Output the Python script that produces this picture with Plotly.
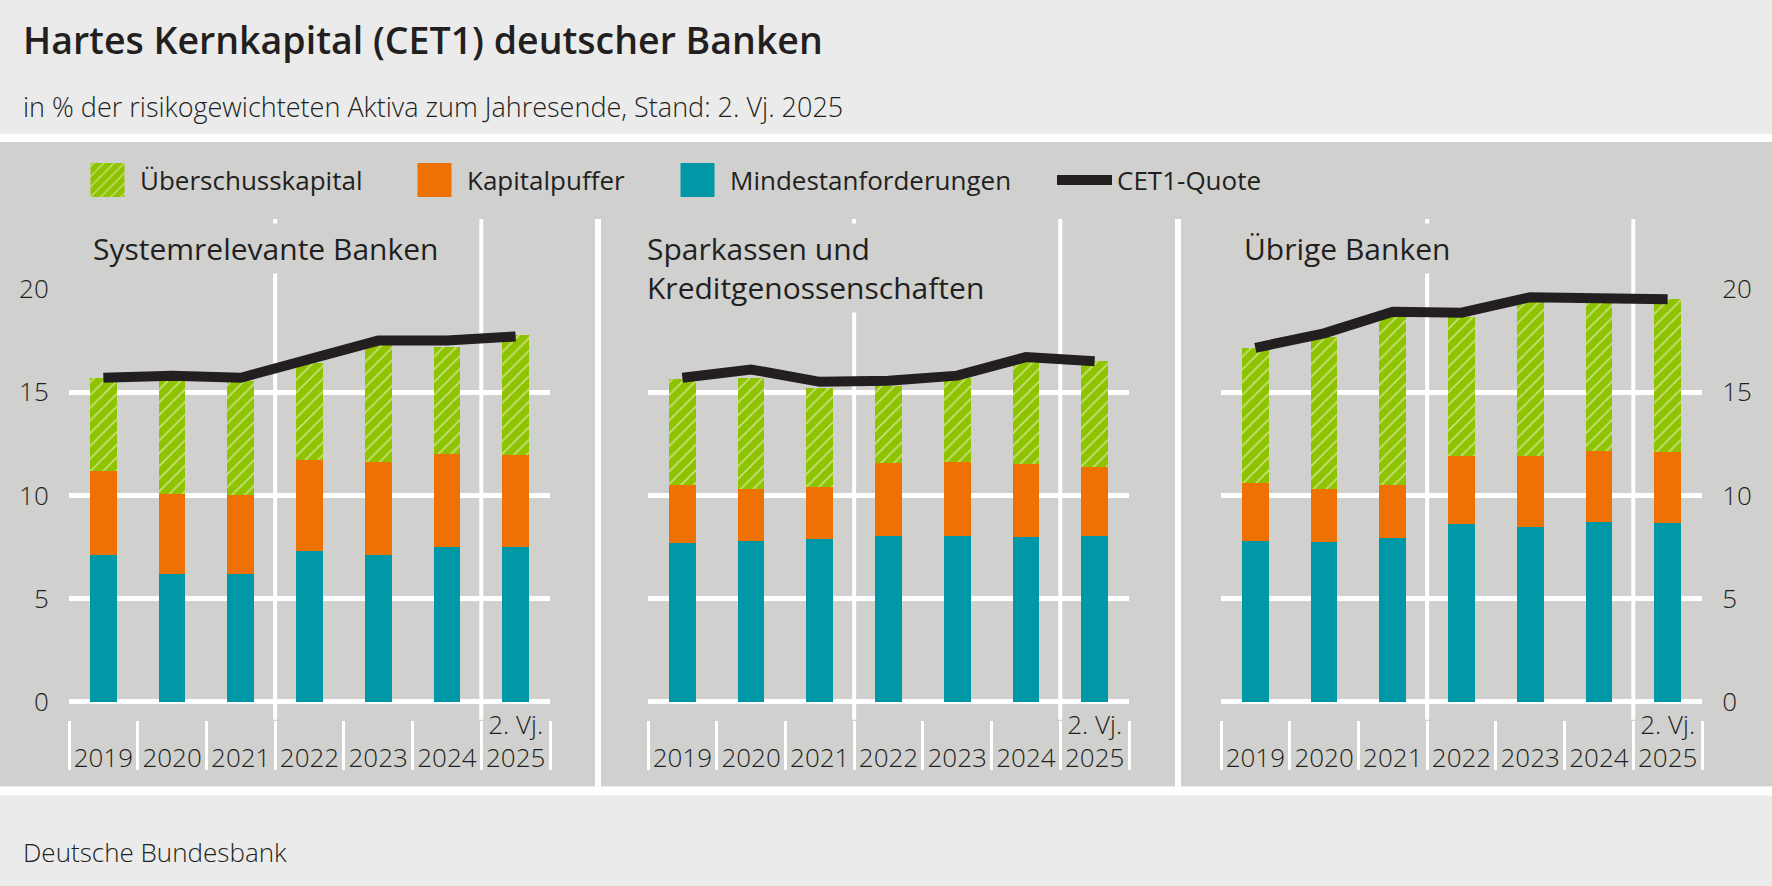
import plotly.graph_objects as go

# ---------------- data ----------------
years = ["2019", "2020", "2021", "2022", "2023", "2024", "2025"]
tick_labels = ["<br>2019", "<br>2020", "<br>2021", "<br>2022", "<br>2023", "<br>2024", "2. Vj.<br>2025"]

panel_titles = ["Systemrelevante Banken", "Sparkassen und<br>Kreditgenossenschaften", "Übrige Banken"]
series_names = ["Überschusskapital", "Kapitalpuffer", "Mindestanforderungen", "CET1-Quote"]

sys_mindest = [7.1, 6.2, 6.2, 7.3, 7.1, 7.5, 7.5]
sys_puffer = [4.1, 3.85, 3.8, 4.4, 4.5, 4.5, 4.45]
sys_ueber = [4.5, 5.55, 5.55, 4.7, 5.7, 5.2, 5.8]
sys_cet1 = [15.7, 15.8, 15.7, 16.6, 17.5, 17.5, 17.7]

spk_mindest = [7.7, 7.8, 7.9, 8.05, 8.05, 8.0, 8.05]
spk_puffer = [2.8, 2.5, 2.5, 3.5, 3.55, 3.5, 3.35]
spk_ueber = [5.15, 5.4, 4.8, 3.75, 4.1, 4.95, 5.1]
spk_cet1 = [15.7, 16.1, 15.5, 15.55, 15.8, 16.7, 16.5]

ueb_mindest = [7.8, 7.75, 7.95, 8.6, 8.45, 8.7, 8.65]
ueb_puffer = [2.8, 2.55, 2.55, 3.3, 3.45, 3.45, 3.45]
ueb_ueber = [6.55, 7.35, 8.2, 6.75, 7.55, 7.2, 7.4]
ueb_cet1 = [17.15, 17.85, 18.9, 18.85, 19.6, 19.55, 19.5]

y_ticks = [0, 5, 10, 15, 20]

# ---------------- style ----------------
W, H = 1772, 886
FONT = "Open Sans"
TXT = "#231f20"
OUTER = "#ebebeb"
PANEL = "#d0d0cf"
GREEN = "#8fc300"
ORANGE = "#ee7203"
TEAL = "#0097a7"
LINE = "#231f20"

# vertical calibration of the captured page (measured from earlier renders)
SY, OY = 0.96, 19.9


def fx(p):
    return p / W


def fy(p):
    return 1 - ((p - OY) / SY) / H


def vlen(p):
    return p / SY


panel_px = [(69, 550), (648, 1129), (1221, 1702)]
panels = [
    (sys_mindest, sys_puffer, sys_ueber, sys_cet1),
    (spk_mindest, spk_puffer, spk_ueber, spk_cet1),
    (ueb_mindest, ueb_puffer, ueb_ueber, ueb_cet1),
]

fig = go.Figure()
legend_ids = ["legend", "legend2", "legend3", "legend4"]

for i, (mind, puf, ueb, cet) in enumerate(panels):
    xa = "x" if i == 0 else f"x{i+1}"
    ya = "y" if i == 0 else f"y{i+1}"
    show = i == 0
    fig.add_trace(go.Bar(x=years, y=mind, name=series_names[2], marker=dict(color=TEAL, line=dict(width=0)),
                         width=0.39, xaxis=xa, yaxis=ya, showlegend=show, legend=legend_ids[2]))
    fig.add_trace(go.Bar(x=years, y=puf, name=series_names[1], marker=dict(color=ORANGE, line=dict(width=0)),
                         width=0.39, xaxis=xa, yaxis=ya, showlegend=show, legend=legend_ids[1]))
    fig.add_trace(go.Bar(x=years, y=ueb, name=series_names[0],
                         marker=dict(color=GREEN, line=dict(width=0),
                                     pattern=dict(shape="/", fgcolor="white", bgcolor=GREEN, size=9, solidity=0.18)),
                         width=0.39, xaxis=xa, yaxis=ya, showlegend=show, legend=legend_ids[0]))
    fig.add_trace(go.Scatter(x=years, y=cet, name=series_names[3], mode="lines",
                             line=dict(color=LINE, width=10), xaxis=xa, yaxis=ya,
                             showlegend=show, legend=legend_ids[3]))

layout = dict(
    width=W, height=H,
    margin=dict(l=0, r=0, t=0, b=0),
    paper_bgcolor=OUTER, plot_bgcolor="rgba(0,0,0,0)",
    barmode="stack", bargap=0.6, hovermode=False,
    font=dict(family=FONT, color=TXT),
)

for i, (x0, x1) in enumerate(panel_px):
    sfx = "" if i == 0 else str(i + 1)
    layout[f"xaxis{sfx}"] = dict(
        domain=[fx(x0), fx(x1)], type="category", categoryorder="array", categoryarray=years,
        range=[-0.5, 6.5], anchor="free", position=fy(721),
        tickmode="array", tickvals=years, ticktext=tick_labels, tickson="boundaries", tickangle=0,
        ticks="outside", ticklen=vlen(47), tickwidth=3, tickcolor="white",
        ticklabelstandoff=-13, tickfont=dict(size=26, color=TXT, family=FONT, weight=300),
        showgrid=False, showline=False, zeroline=False, fixedrange=True,
    )
    layout[f"yaxis{sfx}"] = dict(
        domain=[fy(703.3), fy(290)], range=[0, 20], anchor=f"x{sfx}",
        tickmode="array", tickvals=y_ticks,
        side="right" if i == 2 else "left", showticklabels=(i != 1),
        ticks="outside", ticklen=14, tickcolor="rgba(0,0,0,0)",
        tickfont=dict(size=26, color=TXT, family=FONT, weight=300),
        showgrid=True, gridcolor="white", gridwidth=4.5,
        zeroline=True, zerolinecolor="white", zerolinewidth=4.5,
        showline=False, fixedrange=True,
    )

# legends, one per item
leg_x = [75, 402, 665, 1052]
for lid, lx in zip(legend_ids, leg_x):
    layout[lid] = dict(x=fx(lx), y=fy(181), xanchor="left", yanchor="middle", orientation="h",
                       bgcolor="rgba(0,0,0,0)", itemwidth=55,
                       font=dict(size=26, color=TXT, family=FONT, weight=500))

shapes = [
    dict(type="rect", xref="paper", yref="paper", x0=0, x1=1, y0=fy(788), y1=fy(143),
         fillcolor=PANEL, line=dict(width=0), layer="below"),
    dict(type="rect", xref="paper", yref="paper", x0=0, x1=1, y0=fy(143), y1=fy(135),
         fillcolor="white", line=dict(width=0), layer="below"),
    dict(type="rect", xref="paper", yref="paper", x0=0, x1=1, y0=fy(797), y1=fy(788),
         fillcolor="white", line=dict(width=0), layer="below"),
]
for sx in (598, 1178):
    shapes.append(dict(type="line", xref="paper", yref="paper", x0=fx(sx), x1=fx(sx), y0=fy(788), y1=fy(220),
                       line=dict(color="white", width=6), layer="below"))
for i in range(3):
    xr = "x" if i == 0 else f"x{i+1}"
    for xv in (2.5, 5.5):
        shapes.append(dict(type="line", xref=xr, yref="paper", x0=xv, x1=xv, y0=fy(721), y1=fy(220),
                           line=dict(color="white", width=4), layer="below"))
layout["shapes"] = shapes

annotations = [
    dict(text="Hartes Kernkapital (CET1) deutscher Banken", xref="paper", yref="paper",
         x=fx(21), y=fy(40), xanchor="left", yanchor="middle", showarrow=False,
         font=dict(size=37.5, color=TXT, family=FONT, weight=600)),
    dict(text="in % der risikogewichteten Aktiva zum Jahresende, Stand: 2. Vj. 2025", xref="paper", yref="paper",
         x=fx(21), y=fy(107), xanchor="left", yanchor="middle", showarrow=False,
         font=dict(size=27, color=TXT, family=FONT, weight=300)),
    dict(text="Deutsche Bundesbank", xref="paper", yref="paper",
         x=fx(21), y=fy(853), xanchor="left", yanchor="middle", showarrow=False,
         font=dict(size=26, color=TXT, family=FONT, weight=300)),
]
title_x = [88, 642, 1239]
for t, tx in zip(panel_titles, title_x):
    annotations.append(dict(text=t, xref="paper", yref="paper", x=fx(tx), y=fy(224),
                            xanchor="left", yanchor="top", align="left", showarrow=False,
                            bgcolor=PANEL, borderpad=4,
                            font=dict(size=30, color=TXT, family=FONT, weight=500)))
layout["annotations"] = annotations

fig.update_layout(**layout)

post = """
document.body.style.margin='0';document.body.style.padding='0';
document.documentElement.style.overflow='hidden';
function bigLegendKeys(){
  document.querySelectorAll('g.legendpoints path').forEach(function(p){
    var d = (p.getAttribute('d') || '').replace(/\\s/g, '');
    if (d === 'M6,6H-6V-6H6Z') { p.setAttribute('d', 'M17,17H-17V-17H17Z'); }
  });
}
bigLegendKeys();
[30, 200, 600, 1200, 2500].forEach(function(t){ setTimeout(bigLegendKeys, t); });
var gdiv = document.getElementById('{plot_id}');
if (gdiv && gdiv.on) { gdiv.on('plotly_afterplot', function(){ setTimeout(bigLegendKeys, 0); }); }
"""
fig.write_html("out.html", config={"displayModeBar": False}, post_script=post)
